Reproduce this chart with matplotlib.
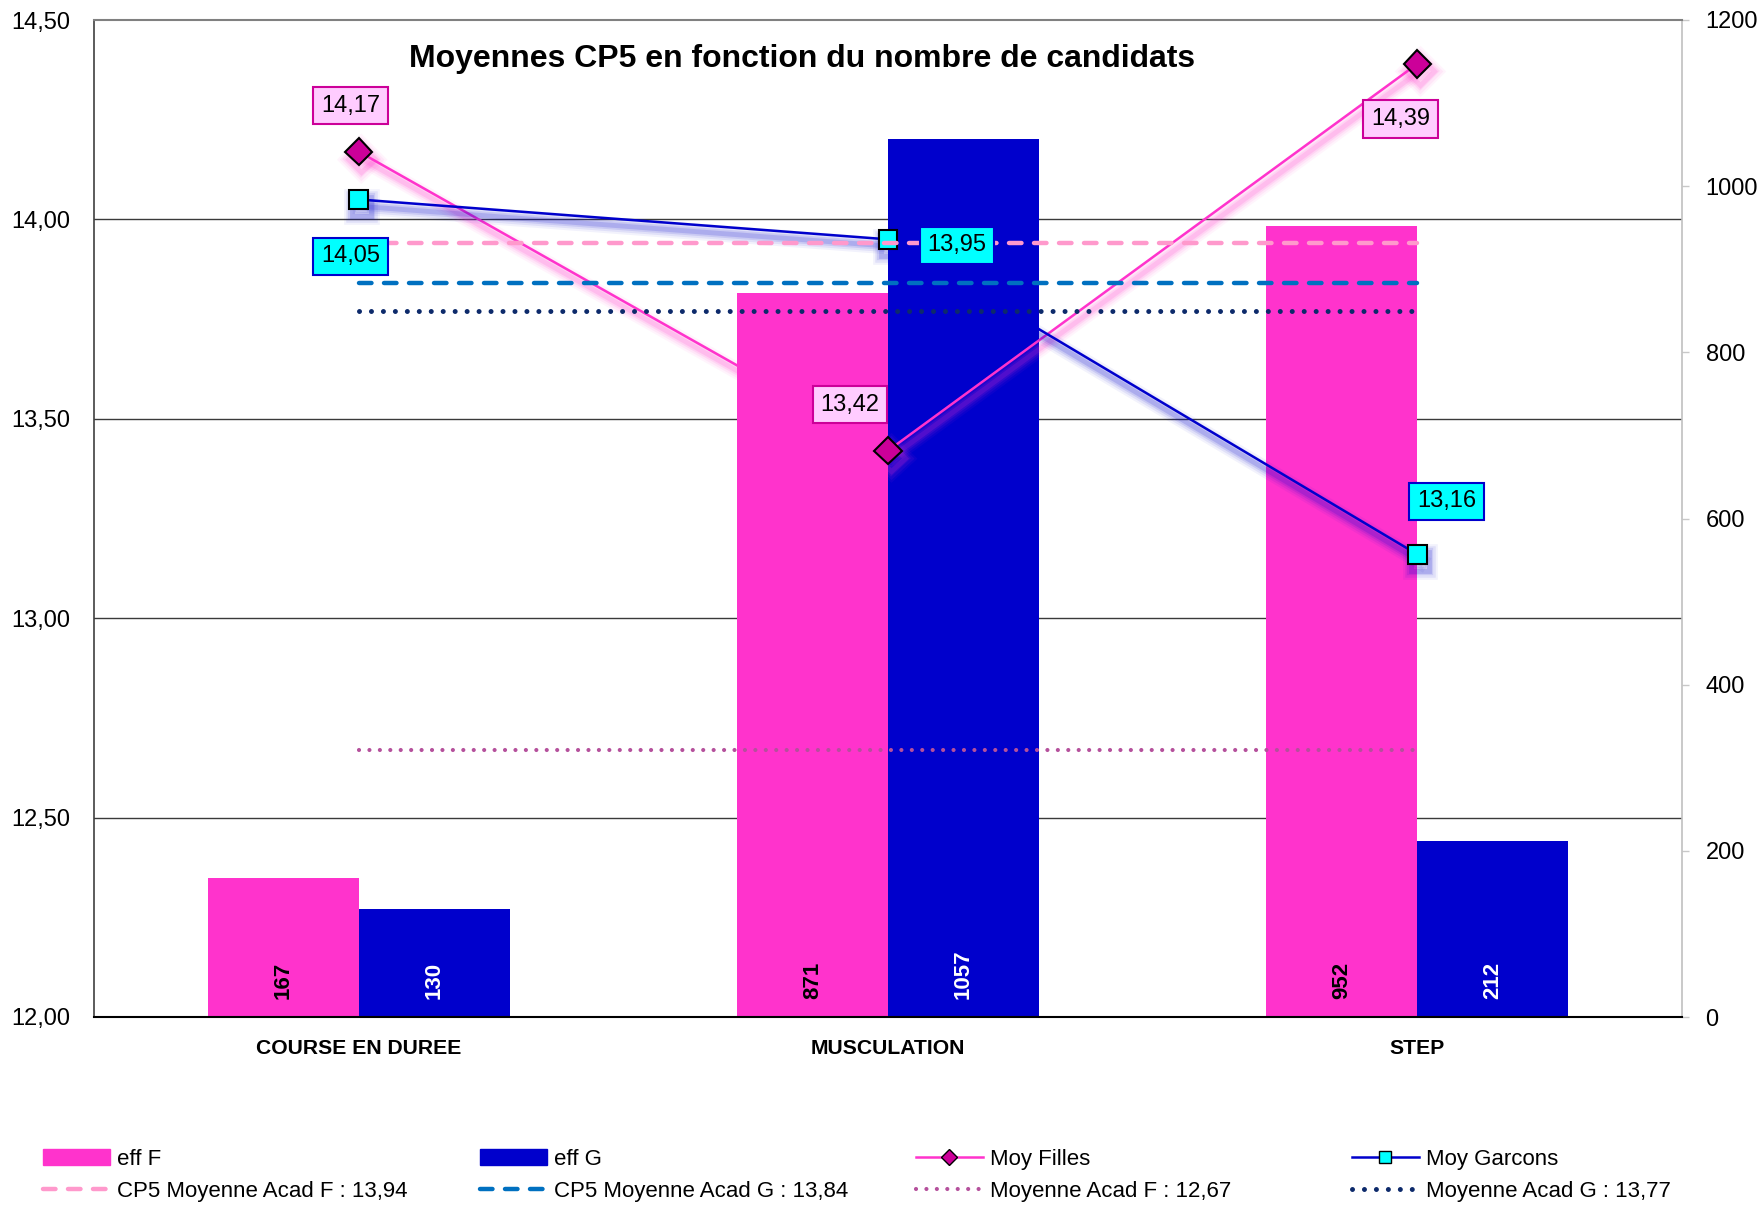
import matplotlib
matplotlib.use("Agg")
import matplotlib.pyplot as plt
import matplotlib.patheffects as pe
from matplotlib.lines import Line2D
from matplotlib.patches import Patch
from matplotlib.transforms import blended_transform_factory
import numpy as np

# ---- data ----
categories = ["COURSE EN DUREE", "MUSCULATION", "STEP"]
eff_f = [167, 871, 952]
eff_g = [130, 1057, 212]
moy_filles = [14.17, 13.42, 14.39]
moy_garcons = [14.05, 13.95, 13.16]
cp5_acad_f = 13.94
cp5_acad_g = 13.84
acad_f = 12.67
acad_g = 13.77
left_ticks = [12.0, 12.5, 13.0, 13.5, 14.0, 14.5]
right_ticks = [0, 200, 400, 600, 800, 1000, 1200]

PINK = "#FF33CC"
BLUE = "#0000CC"
FONT = ["Liberation Sans", "DejaVu Sans"]

plt.rcParams["font.family"] = FONT
plt.rcParams["lines.scale_dashes"] = False

fig = plt.figure(figsize=(17.65, 12.05), dpi=100)
ax_bar = fig.add_axes([94 / 1765, 1 - 1017 / 1205, (1682 - 94) / 1765, (1017 - 20) / 1205])
ax_line = ax_bar.twinx()
ax_bar.yaxis.tick_right()
ax_line.yaxis.tick_left()

x = np.arange(len(categories))
w = 0.285

# bars (secondary scale, drawn underneath)
ax_bar.bar(x - w / 2, eff_f, w, color=PINK, zorder=2)
ax_bar.bar(x + w / 2, eff_g, w, color=BLUE, zorder=2)
ax_bar.set_ylim(0, 1200)
ax_bar.set_xlim(-0.5, 2.5)
ax_bar.set_yticks(right_ticks)
ax_bar.tick_params(axis="y", right=True, left=False, length=5, width=1, color="#C8C8C8",
                   pad=12, labelsize=17, labelright=True, labelleft=False)
for s in ax_bar.spines.values():
    s.set_visible(False)

for xi, v in zip(x, eff_f):
    ax_bar.annotate(str(v), (xi - w / 2, 0), xytext=(0, 18), textcoords="offset pixels",
                    rotation=90, ha="center", va="bottom", fontsize=16, fontweight="bold",
                    color="black", zorder=3)
for xi, v in zip(x, eff_g):
    ax_bar.annotate(str(v), (xi + w / 2, 0), xytext=(0, 18), textcoords="offset pixels",
                    rotation=90, ha="center", va="bottom", fontsize=16, fontweight="bold",
                    color="white", zorder=3)

# horizontal gridlines of the left scale, behind the bars
grid_tr = blended_transform_factory(ax_bar.transAxes, ax_line.transData)
for t in left_ticks[1:-1]:
    ax_bar.plot([0, 1], [t, t], transform=grid_tr, color="#3A3A3A", lw=1.0, zorder=1)

# x axis labels
ax_bar.set_xticks(x)
ax_bar.set_xticklabels(categories, fontsize=15.2, fontweight="bold")
ax_bar.tick_params(axis="x", length=0, pad=15.5)

# lines (primary scale)
ax_line.set_ylim(12, 14.5)
ax_line.set_yticks(left_ticks)
ax_line.set_yticklabels([f"{t:.2f}".replace(".", ",") for t in left_ticks])
ax_line.tick_params(axis="y", length=0, pad=17, labelsize=17)


def shadow(color):
    layers = []
    for lw_s, a in [(12, 0.05), (9, 0.07), (6, 0.1), (3.5, 0.14)]:
        layers.append(pe.SimpleLineShadow(offset=(2, -5), shadow_color=color, alpha=a, linewidth=lw_s))
    layers.append(pe.Normal())
    return layers


ax_line.plot(x, moy_filles, color=PINK, lw=1.8, marker="D", markersize=14,
             markerfacecolor="#CC0099", markeredgecolor="black", markeredgewidth=1.5,
             zorder=3, path_effects=shadow(PINK))
ax_line.plot(x, moy_garcons, color=BLUE, lw=1.8, marker="s", markersize=13.5,
             markerfacecolor="#00FFFF", markeredgecolor="black", markeredgewidth=1.5,
             zorder=3, path_effects=shadow(BLUE))

ref_x = [x[0], x[-1]]
ax_line.plot(ref_x, [cp5_acad_f] * 2, color="#FF99CC", lw=3.2, dashes=(9, 9),
             dash_capstyle="round", zorder=4)
ax_line.plot(ref_x, [cp5_acad_g] * 2, color="#0070C0", lw=3.2, dashes=(9, 9),
             dash_capstyle="round", zorder=4)
ax_line.plot(ref_x, [acad_f] * 2, color="#B5509C", lw=3.0, dashes=(0.01, 7.5),
             dash_capstyle="round", zorder=4)
ax_line.plot(ref_x, [acad_g] * 2, color="#0D2A6B", lw=3.6, dashes=(0.01, 8.6),
             dash_capstyle="round", zorder=4)

# data labels
f_offsets = [(-8, 46), (-38, 46), (-17, -55)]
g_offsets = [(-8, -57), (69, -6), (29, 53)]
for xi, v, off in zip(x, moy_filles, f_offsets):
    ax_line.annotate(f"{v:.2f}".replace(".", ","), (xi, v), xytext=off, textcoords="offset pixels",
                     ha="center", va="center", fontsize=17, zorder=6,
                     bbox=dict(boxstyle="square,pad=0.33", fc="#FFCCFF", ec="#CC0099", lw=1.5))
for xi, v, off in zip(x, moy_garcons, g_offsets):
    ax_line.annotate(f"{v:.2f}".replace(".", ","), (xi, v), xytext=off, textcoords="offset pixels",
                     ha="center", va="center", fontsize=17, zorder=6,
                     bbox=dict(boxstyle="square,pad=0.33", fc="#00FFFF", ec=BLUE, lw=1.5))

# frame
ax_line.spines["left"].set_color("#404040")
ax_line.spines["left"].set_linewidth(1.2)
ax_line.spines["bottom"].set_color("black")
ax_line.spines["bottom"].set_linewidth(1.5)
ax_line.spines["top"].set_color("#808080")
ax_line.spines["top"].set_linewidth(1.5)
ax_line.spines["right"].set_color("#C0C0C0")
ax_line.spines["right"].set_linewidth(1.2)

fig.text(802 / 1765, 1 - 59.5 / 1205, "Moyennes CP5 en fonction du nombre de candidats",
         ha="center", va="center", fontsize=23, fontweight="bold")

# legend: four columns of two entries
legend_cols = [
    [(Patch(color=PINK), "eff F"),
     (Line2D([], [], color="#FF99CC", lw=3.2, dashes=(9, 9), dash_capstyle="round"),
      "CP5 Moyenne Acad F : 13,94")],
    [(Patch(color=BLUE), "eff G"),
     (Line2D([], [], color="#0070C0", lw=3.2, dashes=(9, 9), dash_capstyle="round"),
      "CP5 Moyenne Acad G : 13,84")],
    [(Line2D([], [], color=PINK, lw=1.8, marker="D", markersize=8, markerfacecolor="#CC0099",
             markeredgecolor="black"), "Moy Filles"),
     (Line2D([], [], color="#B5509C", lw=3.0, dashes=(0.01, 7.5), dash_capstyle="round"),
      "Moyenne Acad F : 12,67")],
    [(Line2D([], [], color=BLUE, lw=1.8, marker="s", markersize=8, markerfacecolor="#00FFFF",
             markeredgecolor="black"), "Moy Garcons"),
     (Line2D([], [], color="#0D2A6B", lw=3.6, dashes=(0.01, 8.6), dash_capstyle="round"),
      "Moyenne Acad G : 13,77")],
]
col_x = [43, 480, 916, 1352]
for cx, entries in zip(col_x, legend_cols):
    handles = [h for h, _ in entries]
    labels = [l for _, l in entries]
    fig.legend(handles, labels, loc="upper left", bbox_to_anchor=(cx / 1765, 1 - 1149 / 1205),
               frameon=False, fontsize=16, handlelength=3.0, handletextpad=0.33,
               borderpad=0, borderaxespad=0, labelspacing=0.48)

fig.savefig("out.png", dpi=100)
